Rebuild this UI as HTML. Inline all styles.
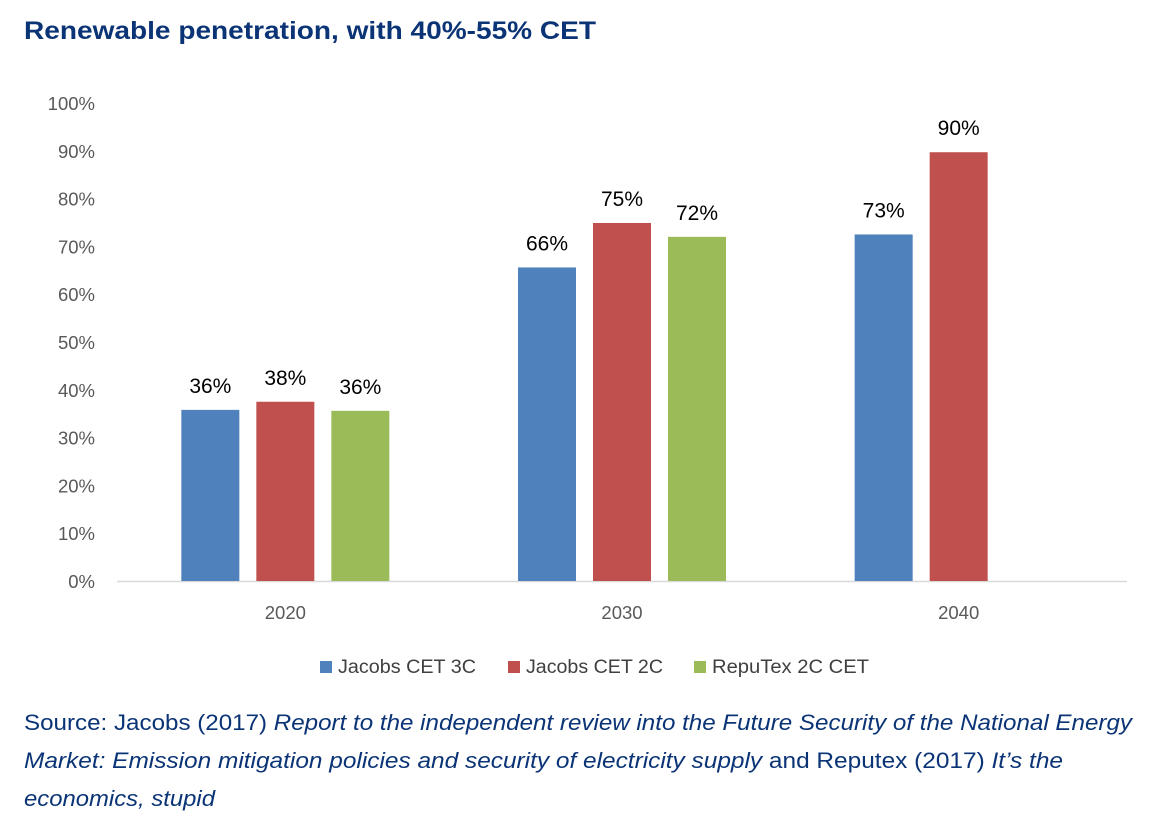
<!DOCTYPE html>
<html><head><meta charset="utf-8"><style>
html,body{margin:0;padding:0;background:#fff;width:1150px;height:829px;overflow:hidden}
svg{display:block;font-family:"Liberation Sans",sans-serif}
</style></head><body>
<svg id="c" width="1150" height="829" xmlns="http://www.w3.org/2000/svg">
<text x="24" y="39" font-size="25" font-weight="bold" fill="#0b3476" textLength="572" lengthAdjust="spacingAndGlyphs">Renewable penetration, with 40%-55% CET</text>
<g id="plot"></g>
<g>
<rect x="320" y="661" width="12" height="12" fill="#4F81BD"/>
<text x="338" y="673" font-size="19" fill="#404040" textLength="138" lengthAdjust="spacingAndGlyphs">Jacobs CET 3C</text>
<rect x="508" y="661" width="12" height="12" fill="#C0504D"/>
<text x="526" y="673" font-size="19" fill="#404040" textLength="137" lengthAdjust="spacingAndGlyphs">Jacobs CET 2C</text>
<rect x="694" y="661" width="12" height="12" fill="#9BBB59"/>
<text x="712" y="673" font-size="19" fill="#404040" textLength="157" lengthAdjust="spacingAndGlyphs">RepuTex 2C CET</text>
</g>
<g font-size="22" fill="#0b3476">
<text x="24" y="730" textLength="1108" lengthAdjust="spacingAndGlyphs">Source: Jacobs (2017) <tspan font-style="italic">Report to the independent review into the Future Security of the National Energy</tspan></text>
<text x="24" y="768" textLength="1039" lengthAdjust="spacingAndGlyphs"><tspan font-style="italic">Market: Emission mitigation policies and security of electricity supply</tspan> and Reputex (2017) <tspan font-style="italic">It’s the</tspan></text>
<text x="24" y="806" font-style="italic" textLength="191" lengthAdjust="spacingAndGlyphs">economics, stupid</text>
</g>
</svg>
<script>
const categories=["2020","2030","2040"];
const jacobs3c=[35.8,65.6,72.5];
const jacobs2c=[37.5,74.9,89.7];
const reputex=[35.6,72.0,null];
const labels3c=["36%","66%","73%"];
const labels2c=["38%","75%","90%"];
const labelsRep=["36%","72%",""];
const yTicks=[0,10,20,30,40,50,60,70,80,90,100];

const NS="http://www.w3.org/2000/svg";
const g=document.getElementById('plot');
const x0=117,x1=1127,yBase=581,yTop=103;
const y=v=>yBase-(v/100)*(yBase-yTop);
const catW=(x1-x0)/categories.length;
const cx=i=>x0+catW*(i+0.5);
function mk(t,a){const e=document.createElementNS(NS,t);for(const k in a)e.setAttribute(k,a[k]);g.appendChild(e);return e;}
yTicks.forEach(t=>{
  const e=mk('text',{x:95,y:y(t)+7,'font-size':18.5,fill:'#595959','text-anchor':'end'});
  
  
  e.textContent=t+'%';
});
const ax=mk('line',{x1:x0,x2:x1,y1:yBase+0.5,y2:yBase+0.5,stroke:'#d9d9d9','stroke-width':1.5});


const series=[[jacobs3c,labels3c,'#4F81BD','jacobs-3c'],[jacobs2c,labels2c,'#C0504D','jacobs-2c'],[reputex,labelsRep,'#9BBB59','reputex']];
const bw=58,step=75;
categories.forEach((c,i)=>{
  const t=mk('text',{x:cx(i),y:619,'font-size':18.5,fill:'#595959','text-anchor':'middle'});
  
  
  t.textContent=c;
  series.forEach((s,j)=>{
    const v=s[0][i]; if(v==null)return;
    const bx=cx(i)+(j-1)*step-bw/2;
    const r=mk('rect',{x:bx,y:y(v),width:bw,height:yBase-y(v),fill:s[2]});
    
    
    const l=mk('text',{x:bx+bw/2,y:y(v)-17,'font-size':21,fill:'#000','text-anchor':'middle'});
    
    
    l.textContent=s[1][i];
  });
});
</script>
</body></html>
